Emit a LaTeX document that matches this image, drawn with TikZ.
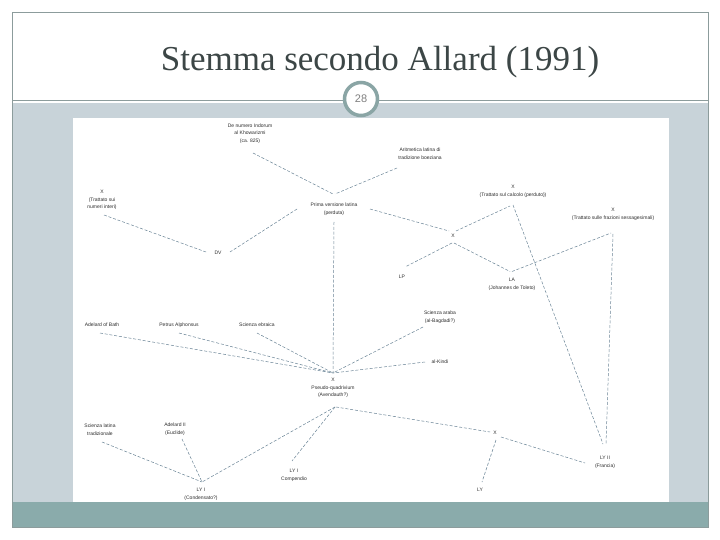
\documentclass[tikz,border=0pt]{standalone}
\usepackage{fontspec}
\newfontfamily\diagfont{Liberation Sans}
\newfontfamily\titlefont{Liberation Serif}
\definecolor{linec}{HTML}{6A8496}
\definecolor{txtc}{HTML}{2E2E2E}
\definecolor{bandc}{HTML}{C8D3D9}
\definecolor{footc}{HTML}{8AABAB}
\definecolor{framec}{HTML}{8C9C9C}
\definecolor{ringc}{HTML}{8AA5A5}
\definecolor{titlec}{HTML}{3C4646}
\begin{document}
\begin{tikzpicture}[x=1pt,y=-1pt,
  lbl/.style={font=\diagfont\fontsize{5}{7.6}\selectfont, text=txtc, align=center, inner sep=0pt},
  link/.style={draw=linec, line width=0.5pt, dash pattern=on 3pt off 1.8pt}]
\useasboundingbox (0,0) rectangle (720,540);
\fill[white] (0,0) rectangle (720,540);
\fill[bandc] (12,103) rectangle (708,502);
\fill[white] (73,118) rectangle (669,502);
\fill[footc] (12,502) rectangle (708,527);
\draw[framec, line width=0.8pt] (12,12) rectangle (708,527);
\draw[framec, line width=0.8pt] (12,100) -- (708,100);
\node[circle, draw=ringc, line width=3.5pt, fill=white, minimum size=33pt, inner sep=0pt,
      font=\diagfont\fontsize{11}{12}\selectfont, text=gray] (pg) at (361,99) {28};
\node[font=\titlefont\fontsize{35}{40}\selectfont, text=titlec, anchor=base, inner sep=0pt] (title) at (380,71) {Stemma secondo Allard (1991)};

% nodes
\node[lbl] (dn) at (250,133.5) {De numero Indorum\\al Khowarizmi\\(ca. 825)};
\node[lbl] (ar) at (420,154) {Aritmetica latina di\\tradizione boeziana};
\node[lbl] (pv) at (334,209) {Prima versione latina\\(perduta)};
\node[lbl] (xnum) at (102,200) {X\\(Trattato sui\\numeri interi)};
\node[lbl] (dv) at (218,253) {DV};
\node[lbl] (xcalc) at (513,191) {X\\(Trattato sul calcolo (perduto))};
\node[lbl] (xsess) at (613,214) {X\\(Trattato sulle frazioni sessagesimali)};
\node[lbl] (xs) at (453,236) {X};
\node[lbl] (lp) at (402,277) {LP};
\node[lbl] (la) at (512,284.5) {LA\\(Johannes de Toleto)};
\node[lbl] (adel) at (102,325) {Adelard of Bath};
\node[lbl] (petr) at (179,325) {Petrus Alphonsus};
\node[lbl] (sebr) at (257,325) {Scienza ebraica};
\node[lbl] (sara) at (440,317.5) {Scienza araba\\(al-Bagdadi?)};
\node[lbl] (kindi) at (440,362) {al-Kindi};
\node[lbl] (xps) at (333,388) {X\\Pseudo-quadrivium\\(Avendauth?)};
\node[lbl] (slat) at (100,429.5) {Scienza latina\\tradizionale};
\node[lbl] (ad2) at (175,429) {Adelard II\\(Euclide)};
\node[lbl] (lyic) at (201,494) {LY I\\(Condensato?)};
\node[lbl] (lyicomp) at (294,475) {LY I\\Compendio};
\node[lbl] (xlow) at (495,433) {X};
\node[lbl] (ly) at (480,490) {LY};
\node[lbl] (lyii) at (605,462) {LY II\\(Francia)};

% connectors
\draw[link] ([shift={(3,19.5)}]dn.center) -- ([shift={(-1,-15)}]pv.center);
\draw[link] ([shift={(-23,14)}]ar.center) -- ([shift={(1,-15)}]pv.center);
\draw[link] ([shift={(-37,0)}]pv.center) -- ([shift={(12,-1)}]dv.center);
\draw[link] ([shift={(2,15)}]xnum.center) -- ([shift={(-12,-1)}]dv.center);
\draw[link] ([shift={(36,0)}]pv.center) -- ([shift={(-4,-5)}]xs.center);
\draw[link] ([shift={(3,-5)}]xs.center) -- ([shift={(-3,15)}]xcalc.center);
\draw[link] ([shift={(-1,7)}]xs.center) -- ([shift={(3,-10)}]lp.center);
\draw[link] ([shift={(1,7)}]xs.center) -- ([shift={(-2,-13)}]la.center);
\draw[link] ([shift={(0,-13)}]la.center) -- ([shift={(-2,19)}]xsess.center);
\draw[link] ([shift={(0,14)}]xcalc.center) -- ([shift={(-2,-18)}]lyii.center);
\draw[link] ([shift={(0,20)}]xsess.center) -- ([shift={(1,-18)}]lyii.center);
\draw[link] ([shift={(0,13)}]pv.center) -- ([shift={(0,-15)}]xps.center);
\draw[link] ([shift={(-2,8)}]adel.center) -- ([shift={(0,-15)}]xps.center);
\draw[link] ([shift={(0,8)}]petr.center) -- ([shift={(0,-15)}]xps.center);
\draw[link] ([shift={(0,8)}]sebr.center) -- ([shift={(0,-15)}]xps.center);
\draw[link] ([shift={(-17,9.5)}]sara.center) -- ([shift={(0,-15)}]xps.center);
\draw[link] ([shift={(-15,0)}]kindi.center) -- ([shift={(0,-15)}]xps.center);
\draw[link] ([shift={(2,19)}]xps.center) -- ([shift={(1,-12)}]lyic.center);
\draw[link] ([shift={(2,19)}]xps.center) -- ([shift={(-2,-14)}]lyicomp.center);
\draw[link] ([shift={(3,19)}]xps.center) -- ([shift={(-5,-1)}]xlow.center);
\draw[link] ([shift={(2,12.5)}]slat.center) -- ([shift={(1,-12)}]lyic.center);
\draw[link] ([shift={(7,10)}]ad2.center) -- ([shift={(1,-12)}]lyic.center);
\draw[link] ([shift={(1,7)}]xlow.center) -- ([shift={(2,-8)}]ly.center);
\draw[link] ([shift={(6,4)}]xlow.center) -- ([shift={(-20,1)}]lyii.center);
\end{tikzpicture}
\end{document}
